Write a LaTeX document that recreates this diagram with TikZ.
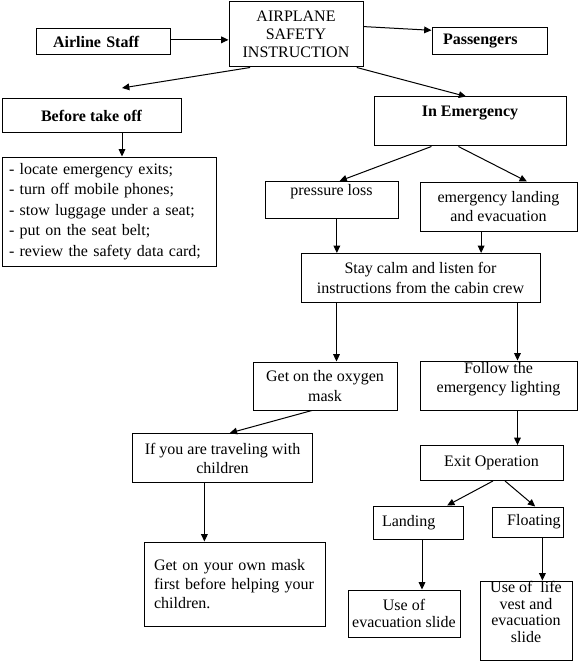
\documentclass[tikz,border=0pt]{standalone}
\usepackage{fontspec}
\setmainfont{Liberation Serif}
\usetikzlibrary{arrows.meta,calc}
\tikzset{
  box/.style={draw, line width=0.75pt, inner sep=0pt, align=center, font=\fontsize{12}{14.5}\selectfont},
  sz/.style 2 args={minimum width=#1*0.75pt, minimum height=#2*0.75pt},
  lsp/.style={font=\fontsize{12}{#1}\selectfont},
  blsp/.style={font=\fontsize{12}{#1}\selectfont\bfseries},
  arr/.style={line width=0.75pt, -{Triangle[length=5.5pt,width=5pt]}},
}
\begin{document}
\begin{tikzpicture}[x=0.75pt,y=-0.75pt]
\useasboundingbox (0,0) rectangle (578,663);

% boxes
\node[box, sz={134}{65}, lsp=13.5pt] (asi) at (296,34.5) {AIRPLANE\\SAFETY\\INSTRUCTION};
\node[box, sz={134}{26}, blsp=14pt, align=left, text width=75pt, inner xsep=12.75pt] (staff) at (103,42) {Airline Staff};
\node[box, sz={115}{27}, blsp=14pt, align=left, text width=69.75pt, inner xsep=8.25pt] (pass) at (489.5,41.5) {Passengers};
\node[box, sz={179}{34}, blsp=14pt] (before) at (91.5,116) {Before take off};
\node[box, sz={192}{49}, blsp=14pt, text depth=14.85pt] (emerg) at (470,121.5) {In Emergency};
\node[box, sz={214}{109}, lsp=15.4pt, align=left, text width=150pt, inner xsep=5.25pt] (list) at (109,211.5)
  {- locate emergency exits;\\- turn off mobile phones;\\- stow luggage under a seat;\\- put on the seat belt;\\- review the safety data card;};
\node[box, sz={133}{36.5}, text depth=14.6pt] (press) at (331.5,199.75) {pressure loss};
\node[box, sz={157}{49}, lsp=14.6pt] (elanding) at (498.5,206.5) {emergency landing\\and evacuation};
\node[box, sz={239}{49}, lsp=14.6pt] (calm) at (420.5,278) {Stay calm and listen for\\instructions from the cabin crew};
\node[box, sz={144}{48}, lsp=15pt] (oxygen) at (325,386) {Get on the oxygen\\mask};
\node[box, sz={157}{49}, lsp=14.25pt, text depth=12.7pt] (follow) at (498.5,385.5) {Follow the\\emergency lighting};
\node[box, sz={180}{49}, lsp=14.25pt] (ifyou) at (222.5,458) {If you are traveling with\\children};
\node[box, sz={143}{35}] (exit) at (491.5,463) {Exit Operation};
\node[box, sz={90}{33}, align=left, text width=54pt, inner xsep=6.75pt] (landing) at (418,522.5) {Landing};
\node[box, sz={70}{30}, align=right, text width=48.75pt, inner xsep=2.25pt] (floating) at (528,522) {Floating};
\node[box, sz={181}{84}, lsp=14pt, align=left, text width=120.75pt, inner xsep=7.5pt] (ownmask) at (234.5,584)
  {Get on your own mask\\first before helping your\\children.};
\node[box, sz={112}{47}, lsp=12.5pt] (slide) at (404,613.5) {Use of\\evacuation slide};
\node[box, sz={92}{79}, lsp=12.5pt, text depth=13.2pt] (vest) at (526,620.5) {Use of \ life\\vest and\\evacuation\\slide};

% free end
\coordinate (bt) at (122,88);

% connectors
\draw[arr] ($(staff.north east)!0.42!(staff.south east)$) coordinate (a1) -- (a1 -| asi.west);
\draw[arr] ($(asi.north east)!0.38!(asi.south east)$) -- ($(pass.north west)!0.1!(pass.south west)$);
\draw[arr] ($(asi.south west)!0.16!(asi.south east)$) -- (bt);
\draw[arr] ($(asi.south west)!0.95!(asi.south east)$) -- ($(emerg.north west)!0.48!(emerg.north east)$);
\draw[arr] (bt |- before.south) -- (bt |- list.north);
\draw[arr] ($(emerg.south west)!0.30!(emerg.south east)$) -- ($(press.north west)!0.56!(press.north east)$);
\draw[arr] ($(emerg.south west)!0.44!(emerg.south east)$) -- ($(elanding.north west)!0.68!(elanding.north east)$);
\draw[arr] ($(press.south west)!0.54!(press.south east)$) coordinate (a2) -- (a2 |- calm.north);
\draw[arr] ($(elanding.south west)!0.39!(elanding.south east)$) coordinate (a3) -- (a3 |- calm.north);
\draw[arr] ($(calm.south west)!0.15!(calm.south east)$) coordinate (a4) -- (a4 |- oxygen.north);
\draw[arr] ($(calm.south west)!0.904!(calm.south east)$) coordinate (a5) -- (a5 |- follow.north);
\draw[arr] ($(oxygen.south west)!0.41!(oxygen.south east)$) -- ($(ifyou.north west)!0.54!(ifyou.north east)$);
\draw[arr] ($(ifyou.south west)!0.40!(ifyou.south east)$) coordinate (a6) -- (a6 |- ownmask.north);
\draw[arr] ($(follow.south west)!0.62!(follow.south east)$) coordinate (a7) -- (a7 |- exit.north);
\draw[arr] ($(exit.south west)!0.51!(exit.south east)$) -- ($(landing.north west)!0.82!(landing.north east)$);
\draw[arr] ($(exit.south west)!0.594!(exit.south east)$) -- ($(floating.north west)!0.6!(floating.north east)$);
\draw[arr] ($(landing.south west)!0.544!(landing.south east)$) coordinate (a8) -- (a8 |- slide.north);
\draw[arr] ($(floating.south west)!0.70!(floating.south east)$) coordinate (a9) -- (a9 |- vest.north);
\end{tikzpicture}
\end{document}
